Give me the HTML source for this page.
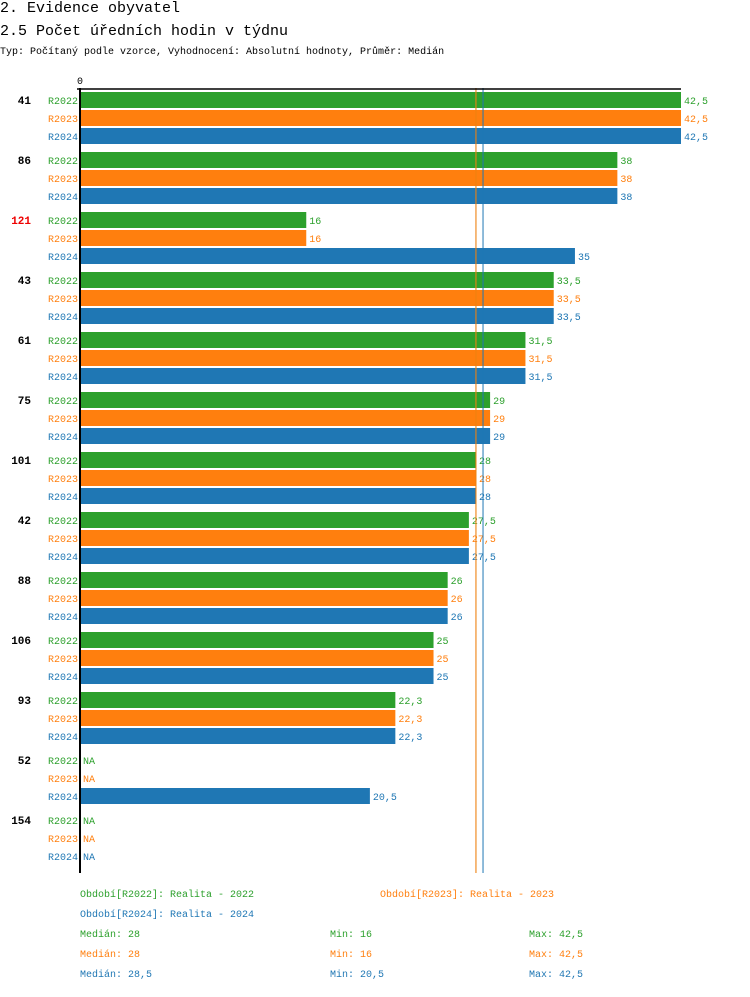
<!DOCTYPE html>
<html><head><meta charset="utf-8">
<style>
body{margin:0;background:#fff;width:750px;height:992px;overflow:hidden}
svg text{font-family:"Liberation Mono","DejaVu Sans Mono",monospace}
</style></head>
<body>
<svg id="chart" width="750" height="992" xmlns="http://www.w3.org/2000/svg">
<text x="0" y="12" font-size="15" fill="#000">2. Evidence obyvatel</text>
<text x="0" y="35" font-size="15" fill="#000">2.5 Počet úředních hodin v týdnu</text>
<text x="0" y="54" font-size="10" fill="#000">Typ: Počítaný podle vzorce, Vyhodnocení: Absolutní hodnoty, Průměr: Medián</text>
<g id="plot"></g>
<g id="legend"></g>
</svg>
<script>
const categories=["41","86","121","43","61","75","101","42","88","106","93","52","154"];
const highlighted=["121"];
const seriesNames=["R2022","R2023","R2024"];
const v2022=[42.5,38,16,33.5,31.5,29,28,27.5,26,25,22.3,null,null];
const v2023=[42.5,38,16,33.5,31.5,29,28,27.5,26,25,22.3,null,null];
const v2024=[42.5,38,35,33.5,31.5,29,28,27.5,26,25,22.3,20.5,null];
const medians=[28,28,28.5];
const mins=[16,16,20.5];
const maxs=[42.5,42.5,42.5];
const colors=["#2ca02c","#ff7f0e","#1f77b4"];
const series=[v2022,v2023,v2024];
const NS="http://www.w3.org/2000/svg";
const x0=80, scale=601/42.5;
const xs=v=>x0+v*scale;
const yRow=(g,s)=>100+g*60+s*18;
const fmt=v=>String(v).replace('.',',');
const plot=document.getElementById('plot');
function mk(tag,attrs,parent){const e=document.createElementNS(NS,tag);for(const k in attrs)e.setAttribute(k,attrs[k]);(parent||plot).appendChild(e);return e;}
function txt(x,y,s,attrs,parent){const t=mk('text',Object.assign({x:x,y:y,'font-size':10},attrs),parent);t.textContent=s;return t;}
categories.forEach((c,g)=>{
  const t=txt(31,yRow(g,0)+4,c,{'text-anchor':'end','font-weight':'bold','font-size':11,'fill':highlighted.includes(c)?'#e00':'#000'});
  
  
  series.forEach((arr,s)=>{
    const y=yRow(g,s);
    const l=txt(78,y+4,seriesNames[s],{'text-anchor':'end','fill':colors[s]});
    
    
    const v=arr[g];
    if(v!==null){
      const r=mk('rect',{x:x0,y:y-8,width:xs(v)-x0,height:16,fill:colors[s]});
      
      
      const vt=txt(xs(v)+3,y+4,fmt(v),{'fill':colors[s]});
      
      
    }else{
      const vt=txt(x0+3,y+4,'NA',{'fill':colors[s]});
      
      
    }
  });
});
medians.forEach((m,s)=>{
  const ln=mk('line',{x1:xs(m),x2:xs(m),y1:88,y2:873,stroke:colors[s],'stroke-width':1});
  
  
});
const ax=mk('line',{x1:x0,x2:x0,y1:88,y2:873,stroke:'#000','stroke-width':2});


const tk=mk('line',{x1:x0-3,x2:x0+601,y1:89,y2:89,stroke:'#000','stroke-width':1.5});


const z=txt(x0,84,'0',{'text-anchor':'middle','font-size':10});


const lg=document.getElementById('legend');
const legPos=[[80,897],[380,897],[80,917]];
seriesNames.forEach((n,s)=>{
  const t=txt(legPos[s][0],legPos[s][1],'Období['+n+']: Realita - '+n.slice(1),{'fill':colors[s]},lg);
  
  
  const y=937+s*20;
  const a=txt(80,y,'Medián: '+fmt(medians[s]),{'fill':colors[s]},lg);
  
  
  const b=txt(330,y,'Min: '+fmt(mins[s]),{'fill':colors[s]},lg);
  
  
  const c=txt(529,y,'Max: '+fmt(maxs[s]),{'fill':colors[s]},lg);
  
  
});
</script>
</body></html>
